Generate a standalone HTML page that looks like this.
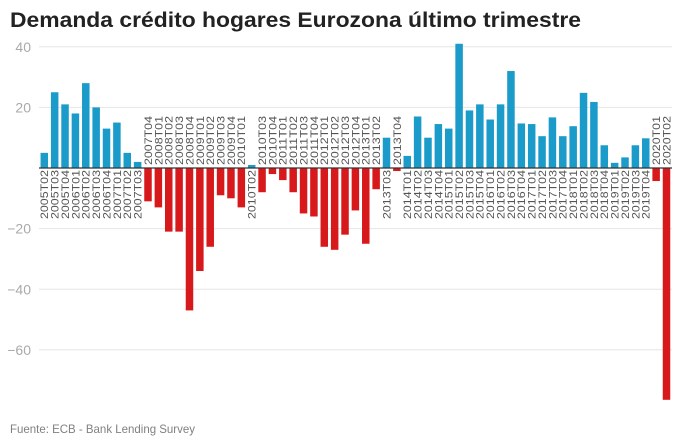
<!DOCTYPE html>
<html>
<head>
<meta charset="utf-8">
<style>
html,body{margin:0;padding:0;background:#fff;}
svg{display:block;}
text{font-family:"Liberation Sans",Arial,sans-serif;}
.lb{font-size:11px;fill:#555;}
.yl{font-size:14px;fill:#aaa;text-anchor:end;}
</style>
</head>
<body>
<svg width="680" height="444" viewBox="0 0 680 444" xmlns="http://www.w3.org/2000/svg">
<rect width="680" height="444" fill="#fff"/>
<text x="10" y="27" font-size="21" font-weight="bold" fill="#222" textLength="571" lengthAdjust="spacingAndGlyphs">Demanda crédito hogares Eurozona último trimestre</text>

<g stroke="#e6e6e6" stroke-width="1">
<line x1="39" y1="46.8" x2="672" y2="46.8"/>
<line x1="39" y1="107.4" x2="672" y2="107.4"/>
<line x1="39" y1="228.6" x2="672" y2="228.6"/>
<line x1="39" y1="289.2" x2="672" y2="289.2"/>
<line x1="39" y1="349.8" x2="672" y2="349.8"/>
</g>
<text class="yl" x="31" y="52">40</text>
<text class="yl" x="31" y="112.5">20</text>
<text class="yl" x="31" y="233.7">−20</text>
<text class="yl" x="31" y="294.3">−40</text>
<text class="yl" x="31" y="354.9">−60</text>

<g fill="#1a9bc9">
<rect x="40.55" y="152.85" width="7.5" height="15.15"/>
<rect x="50.92" y="92.25" width="7.5" height="75.75"/>
<rect x="61.29" y="104.37" width="7.5" height="63.63"/>
<rect x="71.66" y="113.46" width="7.5" height="54.54"/>
<rect x="82.03" y="83.16" width="7.5" height="84.84"/>
<rect x="92.40" y="107.4" width="7.5" height="60.6"/>
<rect x="102.77" y="128.61" width="7.5" height="39.39"/>
<rect x="113.14" y="122.55" width="7.5" height="45.45"/>
<rect x="123.51" y="152.85" width="7.5" height="15.15"/>
<rect x="133.88" y="161.94" width="7.5" height="6.06"/>
<rect x="247.95" y="164.97" width="7.5" height="3.03"/>
<rect x="382.76" y="137.7" width="7.5" height="30.3"/>
<rect x="403.50" y="155.88" width="7.5" height="12.12"/>
<rect x="413.87" y="116.49" width="7.5" height="51.51"/>
<rect x="424.24" y="137.7" width="7.5" height="30.3"/>
<rect x="434.61" y="124.06" width="7.5" height="43.94"/>
<rect x="444.98" y="128.61" width="7.5" height="39.39"/>
<rect x="455.35" y="43.77" width="7.5" height="124.23"/>
<rect x="465.72" y="110.43" width="7.5" height="57.57"/>
<rect x="476.09" y="104.37" width="7.5" height="63.63"/>
<rect x="486.46" y="119.52" width="7.5" height="48.48"/>
<rect x="496.83" y="104.37" width="7.5" height="63.63"/>
<rect x="507.20" y="71.04" width="7.5" height="96.96"/>
<rect x="517.57" y="123.46" width="7.5" height="44.54"/>
<rect x="527.94" y="124.06" width="7.5" height="43.94"/>
<rect x="538.31" y="136.18" width="7.5" height="31.82"/>
<rect x="548.68" y="117.4" width="7.5" height="50.6"/>
<rect x="559.05" y="136.18" width="7.5" height="31.82"/>
<rect x="569.42" y="126.19" width="7.5" height="41.81"/>
<rect x="579.79" y="92.86" width="7.5" height="75.14"/>
<rect x="590.16" y="101.95" width="7.5" height="66.05"/>
<rect x="600.53" y="145.27" width="7.5" height="22.73"/>
<rect x="610.90" y="162.85" width="7.5" height="5.15"/>
<rect x="621.27" y="157.39" width="7.5" height="10.61"/>
<rect x="631.64" y="145.27" width="7.5" height="22.73"/>
<rect x="642.01" y="138.31" width="7.5" height="29.69"/>
</g>
<g fill="#d7191c">
<rect x="144.25" y="168" width="7.5" height="33.33"/>
<rect x="154.62" y="168" width="7.5" height="39.39"/>
<rect x="164.99" y="168" width="7.5" height="63.63"/>
<rect x="175.36" y="168" width="7.5" height="63.63"/>
<rect x="185.73" y="168" width="7.5" height="142.41"/>
<rect x="196.10" y="168" width="7.5" height="103.02"/>
<rect x="206.47" y="168" width="7.5" height="78.78"/>
<rect x="216.84" y="168" width="7.5" height="27.27"/>
<rect x="227.21" y="168" width="7.5" height="30.3"/>
<rect x="237.58" y="168" width="7.5" height="39.39"/>
<rect x="258.32" y="168" width="7.5" height="24.24"/>
<rect x="268.69" y="168" width="7.5" height="6.06"/>
<rect x="279.06" y="168" width="7.5" height="12.12"/>
<rect x="289.43" y="168" width="7.5" height="24.24"/>
<rect x="299.80" y="168" width="7.5" height="45.45"/>
<rect x="310.17" y="168" width="7.5" height="48.48"/>
<rect x="320.54" y="168" width="7.5" height="78.78"/>
<rect x="330.91" y="168" width="7.5" height="81.81"/>
<rect x="341.28" y="168" width="7.5" height="66.66"/>
<rect x="351.65" y="168" width="7.5" height="42.42"/>
<rect x="362.02" y="168" width="7.5" height="75.75"/>
<rect x="372.39" y="168" width="7.5" height="21.21"/>
<rect x="393.13" y="168" width="7.5" height="3.03"/>
<rect x="652.38" y="168" width="7.5" height="13.03"/>
<rect x="662.75" y="168" width="7.5" height="231.8"/>
</g>
<line x1="39" y1="168" x2="672" y2="168" stroke="#333" stroke-width="1.3"/>

<g class="lb">
<text transform="translate(44.30,170) rotate(-90)" y="3.9" text-anchor="end" textLength="49" lengthAdjust="spacingAndGlyphs">2005T02</text>
<text transform="translate(54.67,170) rotate(-90)" y="3.9" text-anchor="end" textLength="49" lengthAdjust="spacingAndGlyphs">2005T03</text>
<text transform="translate(65.04,170) rotate(-90)" y="3.9" text-anchor="end" textLength="49" lengthAdjust="spacingAndGlyphs">2005T04</text>
<text transform="translate(75.41,170) rotate(-90)" y="3.9" text-anchor="end" textLength="49" lengthAdjust="spacingAndGlyphs">2006T01</text>
<text transform="translate(85.78,170) rotate(-90)" y="3.9" text-anchor="end" textLength="49" lengthAdjust="spacingAndGlyphs">2006T02</text>
<text transform="translate(96.15,170) rotate(-90)" y="3.9" text-anchor="end" textLength="49" lengthAdjust="spacingAndGlyphs">2006T03</text>
<text transform="translate(106.52,170) rotate(-90)" y="3.9" text-anchor="end" textLength="49" lengthAdjust="spacingAndGlyphs">2006T04</text>
<text transform="translate(116.89,170) rotate(-90)" y="3.9" text-anchor="end" textLength="49" lengthAdjust="spacingAndGlyphs">2007T01</text>
<text transform="translate(127.26,170) rotate(-90)" y="3.9" text-anchor="end" textLength="49" lengthAdjust="spacingAndGlyphs">2007T02</text>
<text transform="translate(137.63,170) rotate(-90)" y="3.9" text-anchor="end" textLength="49" lengthAdjust="spacingAndGlyphs">2007T03</text>
<text transform="translate(148.00,165) rotate(-90)" y="3.9" text-anchor="start" textLength="49" lengthAdjust="spacingAndGlyphs">2007T04</text>
<text transform="translate(158.37,165) rotate(-90)" y="3.9" text-anchor="start" textLength="49" lengthAdjust="spacingAndGlyphs">2008T01</text>
<text transform="translate(168.74,165) rotate(-90)" y="3.9" text-anchor="start" textLength="49" lengthAdjust="spacingAndGlyphs">2008T02</text>
<text transform="translate(179.11,165) rotate(-90)" y="3.9" text-anchor="start" textLength="49" lengthAdjust="spacingAndGlyphs">2008T03</text>
<text transform="translate(189.48,165) rotate(-90)" y="3.9" text-anchor="start" textLength="49" lengthAdjust="spacingAndGlyphs">2008T04</text>
<text transform="translate(199.85,165) rotate(-90)" y="3.9" text-anchor="start" textLength="49" lengthAdjust="spacingAndGlyphs">2009T01</text>
<text transform="translate(210.22,165) rotate(-90)" y="3.9" text-anchor="start" textLength="49" lengthAdjust="spacingAndGlyphs">2009T02</text>
<text transform="translate(220.59,165) rotate(-90)" y="3.9" text-anchor="start" textLength="49" lengthAdjust="spacingAndGlyphs">2009T03</text>
<text transform="translate(230.96,165) rotate(-90)" y="3.9" text-anchor="start" textLength="49" lengthAdjust="spacingAndGlyphs">2009T04</text>
<text transform="translate(241.33,165) rotate(-90)" y="3.9" text-anchor="start" textLength="49" lengthAdjust="spacingAndGlyphs">2010T01</text>
<text transform="translate(251.70,170) rotate(-90)" y="3.9" text-anchor="end" textLength="49" lengthAdjust="spacingAndGlyphs">2010T02</text>
<text transform="translate(262.07,165) rotate(-90)" y="3.9" text-anchor="start" textLength="49" lengthAdjust="spacingAndGlyphs">2010T03</text>
<text transform="translate(272.44,165) rotate(-90)" y="3.9" text-anchor="start" textLength="49" lengthAdjust="spacingAndGlyphs">2010T04</text>
<text transform="translate(282.81,165) rotate(-90)" y="3.9" text-anchor="start" textLength="49" lengthAdjust="spacingAndGlyphs">2011T01</text>
<text transform="translate(293.18,165) rotate(-90)" y="3.9" text-anchor="start" textLength="49" lengthAdjust="spacingAndGlyphs">2011T02</text>
<text transform="translate(303.55,165) rotate(-90)" y="3.9" text-anchor="start" textLength="49" lengthAdjust="spacingAndGlyphs">2011T03</text>
<text transform="translate(313.92,165) rotate(-90)" y="3.9" text-anchor="start" textLength="49" lengthAdjust="spacingAndGlyphs">2011T04</text>
<text transform="translate(324.29,165) rotate(-90)" y="3.9" text-anchor="start" textLength="49" lengthAdjust="spacingAndGlyphs">2012T01</text>
<text transform="translate(334.66,165) rotate(-90)" y="3.9" text-anchor="start" textLength="49" lengthAdjust="spacingAndGlyphs">2012T02</text>
<text transform="translate(345.03,165) rotate(-90)" y="3.9" text-anchor="start" textLength="49" lengthAdjust="spacingAndGlyphs">2012T03</text>
<text transform="translate(355.40,165) rotate(-90)" y="3.9" text-anchor="start" textLength="49" lengthAdjust="spacingAndGlyphs">2012T04</text>
<text transform="translate(365.77,165) rotate(-90)" y="3.9" text-anchor="start" textLength="49" lengthAdjust="spacingAndGlyphs">2013T01</text>
<text transform="translate(376.14,165) rotate(-90)" y="3.9" text-anchor="start" textLength="49" lengthAdjust="spacingAndGlyphs">2013T02</text>
<text transform="translate(386.51,170) rotate(-90)" y="3.9" text-anchor="end" textLength="49" lengthAdjust="spacingAndGlyphs">2013T03</text>
<text transform="translate(396.88,165) rotate(-90)" y="3.9" text-anchor="start" textLength="49" lengthAdjust="spacingAndGlyphs">2013T04</text>
<text transform="translate(407.25,170) rotate(-90)" y="3.9" text-anchor="end" textLength="49" lengthAdjust="spacingAndGlyphs">2014T01</text>
<text transform="translate(417.62,170) rotate(-90)" y="3.9" text-anchor="end" textLength="49" lengthAdjust="spacingAndGlyphs">2014T02</text>
<text transform="translate(427.99,170) rotate(-90)" y="3.9" text-anchor="end" textLength="49" lengthAdjust="spacingAndGlyphs">2014T03</text>
<text transform="translate(438.36,170) rotate(-90)" y="3.9" text-anchor="end" textLength="49" lengthAdjust="spacingAndGlyphs">2014T04</text>
<text transform="translate(448.73,170) rotate(-90)" y="3.9" text-anchor="end" textLength="49" lengthAdjust="spacingAndGlyphs">2015T01</text>
<text transform="translate(459.10,170) rotate(-90)" y="3.9" text-anchor="end" textLength="49" lengthAdjust="spacingAndGlyphs">2015T02</text>
<text transform="translate(469.47,170) rotate(-90)" y="3.9" text-anchor="end" textLength="49" lengthAdjust="spacingAndGlyphs">2015T03</text>
<text transform="translate(479.84,170) rotate(-90)" y="3.9" text-anchor="end" textLength="49" lengthAdjust="spacingAndGlyphs">2015T04</text>
<text transform="translate(490.21,170) rotate(-90)" y="3.9" text-anchor="end" textLength="49" lengthAdjust="spacingAndGlyphs">2016T01</text>
<text transform="translate(500.58,170) rotate(-90)" y="3.9" text-anchor="end" textLength="49" lengthAdjust="spacingAndGlyphs">2016T02</text>
<text transform="translate(510.95,170) rotate(-90)" y="3.9" text-anchor="end" textLength="49" lengthAdjust="spacingAndGlyphs">2016T03</text>
<text transform="translate(521.32,170) rotate(-90)" y="3.9" text-anchor="end" textLength="49" lengthAdjust="spacingAndGlyphs">2016T04</text>
<text transform="translate(531.69,170) rotate(-90)" y="3.9" text-anchor="end" textLength="49" lengthAdjust="spacingAndGlyphs">2017T01</text>
<text transform="translate(542.06,170) rotate(-90)" y="3.9" text-anchor="end" textLength="49" lengthAdjust="spacingAndGlyphs">2017T02</text>
<text transform="translate(552.43,170) rotate(-90)" y="3.9" text-anchor="end" textLength="49" lengthAdjust="spacingAndGlyphs">2017T03</text>
<text transform="translate(562.80,170) rotate(-90)" y="3.9" text-anchor="end" textLength="49" lengthAdjust="spacingAndGlyphs">2017T04</text>
<text transform="translate(573.17,170) rotate(-90)" y="3.9" text-anchor="end" textLength="49" lengthAdjust="spacingAndGlyphs">2018T01</text>
<text transform="translate(583.54,170) rotate(-90)" y="3.9" text-anchor="end" textLength="49" lengthAdjust="spacingAndGlyphs">2018T02</text>
<text transform="translate(593.91,170) rotate(-90)" y="3.9" text-anchor="end" textLength="49" lengthAdjust="spacingAndGlyphs">2018T03</text>
<text transform="translate(604.28,170) rotate(-90)" y="3.9" text-anchor="end" textLength="49" lengthAdjust="spacingAndGlyphs">2018T04</text>
<text transform="translate(614.65,170) rotate(-90)" y="3.9" text-anchor="end" textLength="49" lengthAdjust="spacingAndGlyphs">2019T01</text>
<text transform="translate(625.02,170) rotate(-90)" y="3.9" text-anchor="end" textLength="49" lengthAdjust="spacingAndGlyphs">2019T02</text>
<text transform="translate(635.39,170) rotate(-90)" y="3.9" text-anchor="end" textLength="49" lengthAdjust="spacingAndGlyphs">2019T03</text>
<text transform="translate(645.76,170) rotate(-90)" y="3.9" text-anchor="end" textLength="49" lengthAdjust="spacingAndGlyphs">2019T04</text>
<text transform="translate(656.13,165) rotate(-90)" y="3.9" text-anchor="start" textLength="49" lengthAdjust="spacingAndGlyphs">2020T01</text>
<text transform="translate(666.50,165) rotate(-90)" y="3.9" text-anchor="start" textLength="49" lengthAdjust="spacingAndGlyphs">2020T02</text>
</g>

<text x="10" y="433" font-size="12" fill="#808080" textLength="185" lengthAdjust="spacingAndGlyphs">Fuente: ECB - Bank Lending Survey</text>
</svg>
</body>
</html>
